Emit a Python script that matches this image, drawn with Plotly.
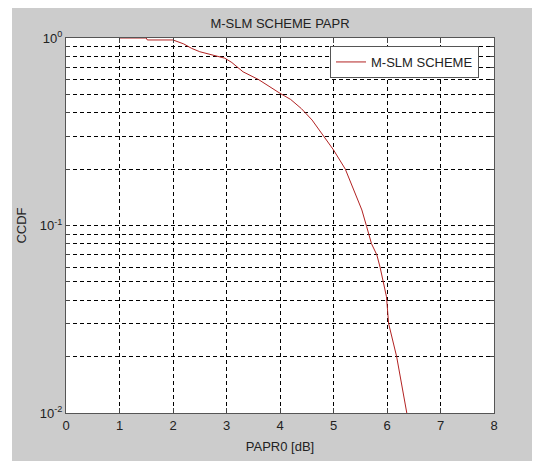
import plotly.graph_objects as go

# Data
papr_db = [1.0, 1.5, 1.52, 2.0, 2.2, 2.35, 2.5, 2.75, 2.97, 3.1, 3.31, 3.6, 3.8, 4.0, 4.2, 4.4,
           4.6, 4.8, 5.0, 5.22, 5.4, 5.53, 5.62, 5.71, 5.81, 5.87, 5.99, 6.03, 6.18, 6.37]
ccdf = [1.0, 1.0, 0.976, 0.976, 0.93, 0.88, 0.845, 0.81, 0.78, 0.74, 0.66, 0.60, 0.55, 0.507, 0.47, 0.42,
        0.365, 0.305, 0.253, 0.20, 0.15, 0.121, 0.0986, 0.080, 0.0697, 0.060, 0.0417, 0.030, 0.020, 0.010]

x_ticks = [0, 1, 2, 3, 4, 5, 6, 7, 8]
y_major = [0.01, 0.1, 1]
y_major_labels = ["10<sup>-2</sup>", "10<sup>-1</sup>", "10<sup>0</sup>"]

y_vals = []
y_text = []
for dec in [0.01, 0.1]:
    for m in range(1, 10):
        v = round(dec * m, 6)
        y_vals.append(v)
        y_text.append(y_major_labels[y_major.index(dec)] if m == 1 else "")
y_vals.append(1.0)
y_text.append(y_major_labels[2])

font_family = "Liberation Sans, Arial, sans-serif"
gray = "#cccccc"

fig = go.Figure()
fig.add_trace(go.Scatter(
    x=papr_db, y=ccdf, mode="lines", name="M-SLM SCHEME",
    line=dict(color="#b22222", width=1), hoverinfo="skip"))

# page has an 8px body margin; figure sized to fill the rest of the window
W, H = 532, 453
L, R, T, B = 58, 46, 30, 48
pw, ph = W - L - R, H - T - B

fig.add_shape(type="rect", xref="paper", yref="paper",
              x0=-L / pw, x1=(4 - L) / pw, y0=-B / ph, y1=1 + T / ph,
              fillcolor="white", line=dict(width=0), layer="below")

grid = dict(showgrid=True, gridcolor="black", gridwidth=1, griddash="4px,3px")
fig.update_layout(
    width=W, height=H,
    margin=dict(l=L, r=R, t=T, b=B, autoexpand=False),
    paper_bgcolor=gray, plot_bgcolor="white",
    font=dict(family=font_family, size=12, color="#222222"),
    title=dict(text="M-SLM SCHEME PAPR", x=(L + pw / 2) / W, xanchor="center",
               y=1 - 15 / H, yanchor="middle", font=dict(size=13, color="#222222"),
               automargin=False),
    showlegend=True,
    legend=dict(x=(322 - L) / pw, y=1 - (38 - T) / ph, xanchor="left", yanchor="top",
                bgcolor="white", bordercolor="#555555", borderwidth=1,
                font=dict(size=13, color="#222222")),
    xaxis=dict(range=[0, 8], tickvals=x_ticks, ticks="inside", ticklen=5,
               showline=True, linecolor="#555555", linewidth=1, mirror="ticks",
               zeroline=False, automargin=False,
               title=dict(text="PAPR0 [dB]", font=dict(size=13), standoff=10),
               tickfont=dict(size=13), **grid),
    yaxis=dict(type="log", range=[-2, 0], tickvals=y_vals, ticktext=y_text,
               ticks="inside", ticklen=4, showline=True, linecolor="#555555",
               linewidth=1, mirror="ticks", zeroline=False, automargin=False,
               title=dict(text="CCDF", font=dict(size=13), standoff=10),
               tickfont=dict(size=13), **grid),
)

fig.write_html("out.html")
